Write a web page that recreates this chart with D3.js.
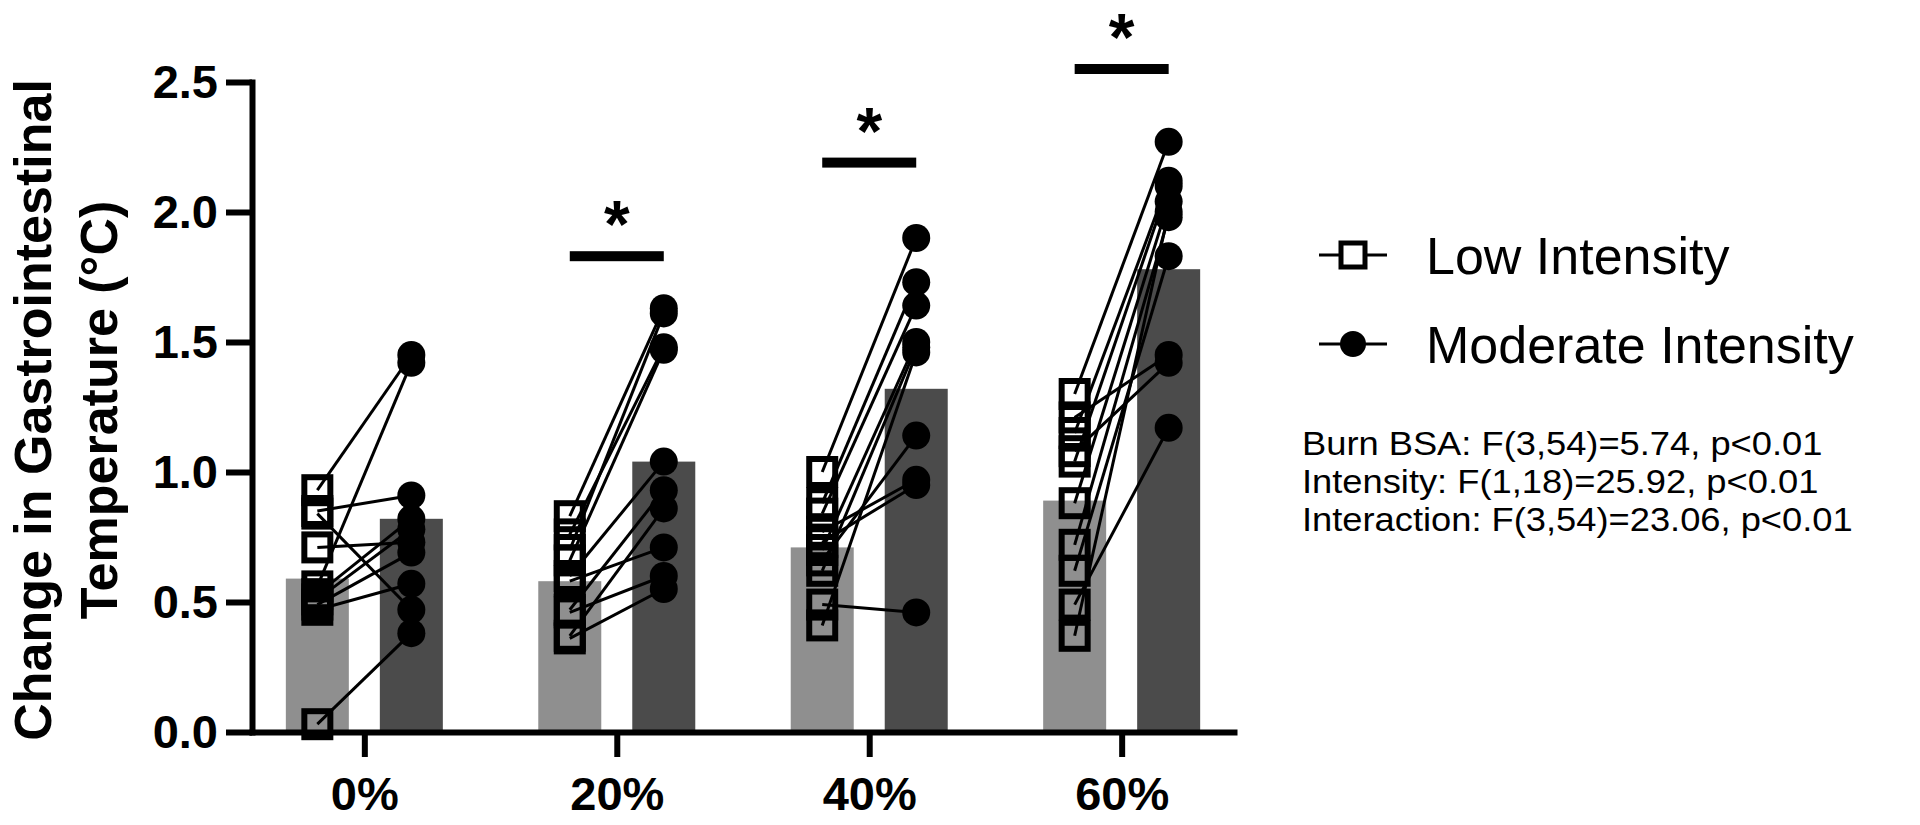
<!DOCTYPE html>
<html>
<head>
<meta charset="utf-8">
<script src="https://cdn.jsdelivr.net/npm/d3@7"></script>
<style>
	body { margin: 0; background: #fff; }
	svg { display: block; font-family: 'Liberation Sans', Arial, sans-serif; }
</style>
</head>
<body>
<svg id="chart" width="1920" height="825"></svg>
<script>
// categories (burn BSA)
const categories = ['0%', '20%', '40%', '60%']

// bar heights (group means)
const lowMeans = [0.59, 0.58, 0.71, 0.89]
const modMeans = [0.82, 1.04, 1.32, 1.78]

// paired subject values, same index = same subject
const lowValues = [
	[0.93, 0.85, 0.84, 0.71, 0.56, 0.53, 0.51, 0.49, 0.47, 0.03],
	[0.83, 0.76, 0.70, 0.66, 0.60, 0.58, 0.47, 0.46, 0.37, 0.36],
	[1.00, 0.88, 0.84, 0.77, 0.73, 0.70, 0.66, 0.62, 0.49, 0.41],
	[1.30, 1.21, 1.15, 1.08, 1.04, 0.88, 0.72, 0.62, 0.49, 0.37]
]
const modValues = [
	[1.45, 0.91, 0.47, 0.73, 1.42, 0.82, 0.78, 0.69, 0.57, 0.38],
	[1.63, 1.48, 1.61, 1.47, 1.04, 0.71, 0.93, 0.60, 0.86, 0.55],
	[1.90, 1.73, 1.64, 0.97, 0.95, 1.50, 1.14, 1.48, 0.46, 1.46],
	[2.27, 1.45, 2.12, 1.42, 2.10, 2.04, 1.98, 1.83, 1.17, 2.00]
]

// significance bars (null = none)
const sigLevels = [null, 1.83, 2.19, 2.55]

const yTicks = [0, 0.5, 1, 1.5, 2, 2.5]
const legendLabels = ['Low Intensity', 'Moderate Intensity']
const statLines = [
	'Burn BSA: F(3,54)=5.74, p<0.01',
	'Intensity: F(1,18)=25.92, p<0.01',
	'Interaction: F(3,54)=23.06, p<0.01'
]

const svg = d3.select('#chart')

const x = d3.scalePoint()
	.domain(categories)
	.range([252, 1234])
	.padding(0.445)

const y = d3.scaleLinear()
	.domain([0, 2.5])
	.range([732, 82])

const offset = 47
const barW = 63
const lowColor = '#8f8f8f'
const modColor = '#4b4b4b'

// bars
const groups = svg.selectAll('g.group')
	.data(categories)
	.enter()
	.append('g')
	.attr('class', 'group')

groups.append('rect')
	.attr('x', d => x(d) - offset - barW / 2)
	.attr('y', (d, i) => y(lowMeans[i]))
	.attr('width', barW)
	.attr('height', (d, i) => y(0) - y(lowMeans[i]))
	.attr('fill', lowColor)

groups.append('rect')
	.attr('x', d => x(d) + offset - barW / 2)
	.attr('y', (d, i) => y(modMeans[i]))
	.attr('width', barW)
	.attr('height', (d, i) => y(0) - y(modMeans[i]))
	.attr('fill', modColor)

// paired lines + markers
categories.forEach((cat, i) => {
	const pairs = lowValues[i].map((v, j) => ({ low: v, mod: modValues[i][j] }))
	const g = svg.append('g')

	g.selectAll('line')
		.data(pairs)
		.enter()
		.append('line')
		.attr('x1', x(cat) - offset)
		.attr('y1', d => y(d.low))
		.attr('x2', x(cat) + offset)
		.attr('y2', d => y(d.mod))
		.attr('stroke', '#000')
		.attr('stroke-width', 3)

	g.selectAll('rect')
		.data(pairs)
		.enter()
		.append('rect')
		.attr('x', x(cat) - offset - 13)
		.attr('y', d => y(d.low) - 13)
		.attr('width', 26)
		.attr('height', 26)
		.attr('fill', 'none')
		.attr('stroke', '#000')
		.attr('stroke-width', 6)

	g.selectAll('circle')
		.data(pairs)
		.enter()
		.append('circle')
		.attr('cx', x(cat) + offset)
		.attr('cy', d => y(d.mod))
		.attr('r', 14)
		.attr('fill', '#000')
})

// axes
const yAxis = svg.append('g')
	.attr('transform', `translate(${x.range()[0]},0)`)
	.call(d3.axisLeft(y)
		.tickValues(yTicks)
		.tickFormat(d3.format('.1f'))
		.tickSize(26)
		.tickSizeOuter(0)
		.tickPadding(8))

const xAxis = svg.append('g')
	.attr('transform', `translate(0,${y(0)})`)
	.call(d3.axisBottom(x)
		.tickSize(25)
		.tickSizeOuter(0)
		.tickPadding(20))

;[yAxis, xAxis].forEach(ax => {
	ax.select('.domain')
		.attr('stroke', '#000')
		.attr('stroke-width', 6)
		.attr('stroke-linecap', 'square')
	ax.selectAll('.tick line')
		.attr('stroke', '#000')
		.attr('stroke-width', 6)
	ax.selectAll('.tick text')
		.attr('fill', '#000')
		.style('font-size', '47px')
		.style('font-weight', 'bold')
		.style('font-family', "'Liberation Sans', Arial, sans-serif")
})

// y title
const title = svg.append('text')
	.attr('transform', 'translate(0,410) rotate(-90)')
	.attr('text-anchor', 'middle')
	.style('font-size', '52px')
	.style('font-weight', 'bold')

title.append('tspan').attr('x', 0).attr('y', 51).text('Change in Gastrointestinal')
title.append('tspan').attr('x', 0).attr('y', 117).text('Temperature (°C)')

// significance
const sig = categories
	.map((cat, i) => ({ cat, level: sigLevels[i] }))
	.filter(d => d.level !== null)

svg.selectAll('rect.sig')
	.data(sig)
	.enter()
	.append('rect')
	.attr('class', 'sig')
	.attr('x', d => x(d.cat) - offset)
	.attr('y', d => y(d.level) - 5)
	.attr('width', offset * 2)
	.attr('height', 10)
	.attr('fill', '#000')

svg.selectAll('text.star')
	.data(sig)
	.enter()
	.append('text')
	.attr('class', 'star')
	.attr('x', d => x(d.cat))
	.attr('y', d => y(d.level) - 9)
	.attr('text-anchor', 'middle')
	.style('font-size', '66px')
	.style('font-weight', 'bold')
	.text('*')

// legend
const legend = svg.append('g')
	.selectAll('g')
	.data(legendLabels)
	.enter()
	.append('g')
	.attr('transform', (d, i) => `translate(1319,${255 + i * 89})`)

legend.append('line')
	.attr('x1', 0)
	.attr('x2', 68)
	.attr('stroke', '#000')
	.attr('stroke-width', 3)

legend.filter((d, i) => i === 0)
	.append('rect')
	.attr('x', 34 - 12)
	.attr('y', -12)
	.attr('width', 24)
	.attr('height', 24)
	.attr('fill', '#fff')
	.attr('stroke', '#000')
	.attr('stroke-width', 5)

legend.filter((d, i) => i === 1)
	.append('circle')
	.attr('cx', 34)
	.attr('r', 13)
	.attr('fill', '#000')

legend.append('text')
	.attr('x', 107)
	.attr('y', 19)
	.style('font-size', '52px')
	.text(d => d)

// stats (the figure's text runs a little wider than Liberation Sans)
svg.append('g')
	.attr('transform', 'translate(1302,0) scale(1.1,1)')
	.selectAll('text')
	.data(statLines)
	.enter()
	.append('text')
	.attr('x', 0)
	.attr('y', (d, i) => 455 + i * 38)
	.style('font-size', '33px')
	.text(d => d)
</script>
</body>
</html>
